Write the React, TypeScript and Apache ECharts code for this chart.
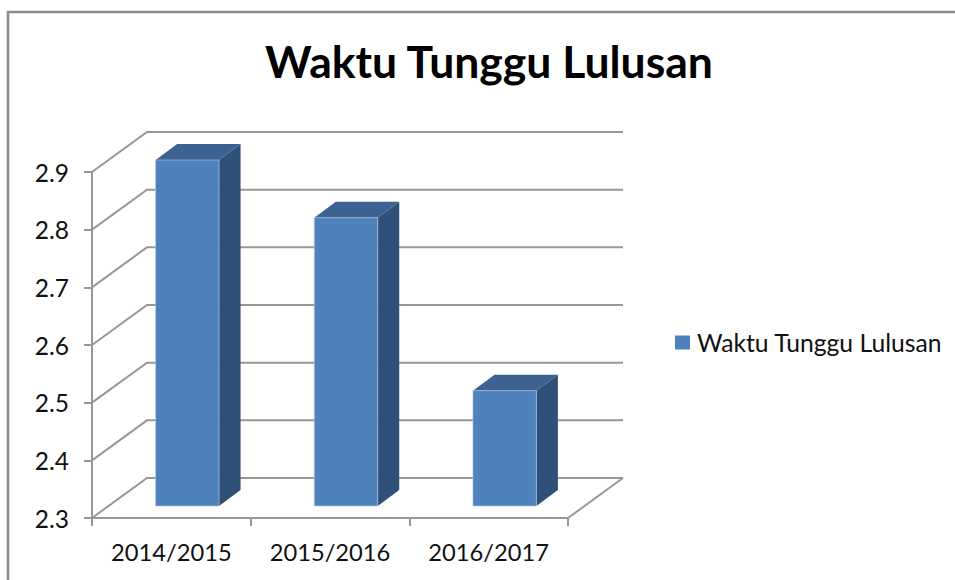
import React, { useEffect, useRef } from "react";
import * as echarts from "echarts";

const titleText = "Waktu Tunggu Lulusan";
const seriesName = "Waktu Tunggu Lulusan";
const categories = ["2014/2015", "2015/2016", "2016/2017"];
const values = [2.9, 2.8, 2.5];
const gridValues = [2.3, 2.4, 2.5, 2.6, 2.7, 2.8, 2.9];
const axisMin = 2.3;
const axisMax = 2.9;
const axisStep = 0.1;

const FONT = "Lato, 'Noto Sans', sans-serif";
const LINE = "#979797";
const DEPTH_X = 55;
const DEPTH_Y = 40;

export default function App() {
  const ref = useRef<HTMLDivElement>(null);
  useEffect(() => {
    const chart = echarts.init(ref.current!, null, { renderer: "svg" });
    chart.setOption({
      animation: false,
      backgroundColor: "#ffffff",
      title: {
        text: titleText,
        left: 484,
        top: 33,
        textAlign: "center",
        textStyle: { fontFamily: FONT, fontWeight: "bold", fontSize: 44.5, color: "#000" },
      },
      legend: {
        data: [{ name: seriesName, icon: "rect" }],
        left: 675,
        top: 330,
        padding: 0,
        itemWidth: 15,
        itemHeight: 14,
        itemGap: 0,
        textStyle: { fontFamily: FONT, fontSize: 24.7, color: "#111", padding: [0, 0, 0, 2] },
      },
      grid: { left: 92, right: 387, top: 172, bottom: 62 },
      xAxis: {
        type: "category",
        data: categories,
        axisLine: { lineStyle: { color: LINE, width: 2 } },
        axisTick: { show: true, length: 8, lineStyle: { color: LINE, width: 2 } },
        axisLabel: { fontFamily: FONT, fontSize: 23.7, color: "#111", margin: 22 },
      },
      yAxis: {
        type: "value",
        min: axisMin,
        max: axisMax,
        interval: axisStep,
        splitLine: { show: false },
        axisLine: { show: true, lineStyle: { color: LINE, width: 2 } },
        axisTick: { show: true, length: 8, lineStyle: { color: LINE, width: 2 } },
        axisLabel: { fontFamily: FONT, fontSize: 24.5, color: "#111", margin: 23 },
      },
      series: [
        {
          name: "walls",
          type: "custom",
          z: 1,
          clip: false,
          data: gridValues.map((v) => [0, v]),
          renderItem: (params: any, api: any) => {
            const cs = params.coordSys;
            const y = api.coord([0, api.value(1)])[1];
            const x0 = cs.x;
            const x1 = cs.x + cs.width;
            const children: any[] = [
              {
                type: "polyline",
                shape: { points: [[x0, y], [x0 + DEPTH_X, y - DEPTH_Y], [x1 + DEPTH_X, y - DEPTH_Y]] },
                style: { stroke: LINE, lineWidth: 2, fill: "none" },
              },
            ];
            if (api.value(1) === axisMin) {
              children.push({
                type: "line",
                shape: { x1, y1: y, x2: x1 + DEPTH_X, y2: y - DEPTH_Y },
                style: { stroke: LINE, lineWidth: 2 },
              });
            }
            return { type: "group", children };
          },
        },
        {
          name: seriesName,
          type: "custom",
          z: 2,
          clip: false,
          itemStyle: { color: "#4F81BD" },
          data: values.map((v, i) => [i, v]),
          renderItem: (params: any, api: any) => {
            const idx = api.value(0);
            const top = api.coord([idx, api.value(1)]);
            const base = api.coord([idx, axisMin]);
            const w = api.size([1, 0])[0] * 0.4;
            const xl = top[0] + 16 - w / 2;
            const xr = xl + w;
            const yt = top[1] - 12;
            const yb = base[1] - 12;
            const dx = 21.5;
            const dy = 16;
            return {
              type: "group",
              children: [
                {
                  type: "polygon",
                  shape: { points: [[xr, yt], [xr + dx, yt - dy], [xr + dx, yb - dy], [xr, yb]] },
                  style: { fill: "#2F5078" },
                },
                {
                  type: "polygon",
                  shape: { points: [[xl, yt], [xl + dx, yt - dy], [xr + dx, yt - dy], [xr, yt]] },
                  style: { fill: "#3B6290" },
                },
                {
                  type: "rect",
                  shape: { x: xl, y: yt, width: w, height: yb - yt },
                  style: { fill: "#4F81BD", stroke: "#B8CCE4", lineWidth: 0.6 },
                },
              ],
            };
          },
        },
      ],
      graphic: [
        {
          type: "polyline",
          silent: true,
          shape: { points: [[8, 580], [8, 12], [955, 12]] },
          style: { stroke: "#8A8A8A", lineWidth: 2.5, fill: "none" },
        },
      ],
    });
    return () => chart.dispose();
  }, []);
  return <div ref={ref} style={{ position: "fixed", left: 0, top: 0, width: 955, height: 580 }} />;
}
